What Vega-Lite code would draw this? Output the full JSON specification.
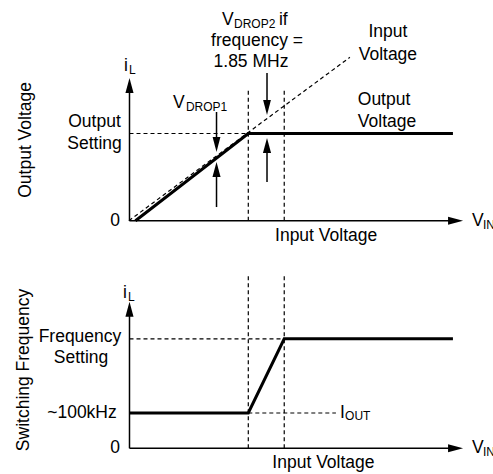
{
"$schema":"https://vega.github.io/schema/vega-lite/v6.json",
"padding":0,"spacing":0,"bounds":"flush","background":"white",
"config":{"view":{"stroke":null}},
"resolve":{"scale":{"x":"independent","y":"independent","shape":"independent"}},
"datasets":{
"lines":[
{"p":"t","id":"d1","k":"dash","o":0,"x":-0.02,"y":0},{"p":"t","id":"d1","k":"dash","o":1,"x":7.42,"y":5.62},
{"p":"t","id":"d2","k":"dash","o":0,"x":0,"y":3},{"p":"t","id":"d2","k":"dash","o":1,"x":4,"y":3},
{"p":"t","id":"d3","k":"dash","o":0,"x":4,"y":0},{"p":"t","id":"d3","k":"dash","o":1,"x":4,"y":4.566},
{"p":"t","id":"d4","k":"dash","o":0,"x":5.21,"y":0},{"p":"t","id":"d4","k":"dash","o":1,"x":5.21,"y":4.566},
{"p":"t","id":"xa","k":"thin","o":0,"x":0,"y":0},{"p":"t","id":"xa","k":"thin","o":1,"x":11,"y":0},
{"p":"t","id":"ya","k":"thin","o":0,"x":0,"y":0},{"p":"t","id":"ya","k":"thin","o":1,"x":0,"y":4.7},
{"p":"t","id":"s1","k":"thin","o":0,"x":2.93,"y":3.74},{"p":"t","id":"s1","k":"thin","o":1,"x":2.93,"y":2.6},
{"p":"t","id":"s2","k":"thin","o":0,"x":2.93,"y":0.47},{"p":"t","id":"s2","k":"thin","o":1,"x":2.93,"y":1.8},
{"p":"t","id":"s3","k":"thin","o":0,"x":4.63,"y":5.08},{"p":"t","id":"s3","k":"thin","o":1,"x":4.63,"y":3.9},
{"p":"t","id":"s4","k":"thin","o":0,"x":4.63,"y":1.33},{"p":"t","id":"s4","k":"thin","o":1,"x":4.63,"y":2.6},
{"p":"t","id":"out","k":"thick","o":0,"x":0.2,"y":0},{"p":"t","id":"out","k":"thick","o":1,"x":4,"y":3},{"p":"t","id":"out","k":"thick","o":2,"x":10.89,"y":3},
{"p":"b","id":"e1","k":"dash","o":0,"x":0,"y":3.1},{"p":"b","id":"e1","k":"dash","o":1,"x":5.21,"y":3.1},
{"p":"b","id":"e2","k":"dash","o":0,"x":4,"y":1},{"p":"b","id":"e2","k":"dash","o":1,"x":6.95,"y":1},
{"p":"b","id":"e3","k":"dash","o":0,"x":4,"y":0},{"p":"b","id":"e3","k":"dash","o":1,"x":4,"y":4.909},
{"p":"b","id":"e4","k":"dash","o":0,"x":5.21,"y":0},{"p":"b","id":"e4","k":"dash","o":1,"x":5.21,"y":4.909},
{"p":"b","id":"xb","k":"thin","o":0,"x":0,"y":0},{"p":"b","id":"xb","k":"thin","o":1,"x":11,"y":0},
{"p":"b","id":"yb","k":"thin","o":0,"x":0,"y":0},{"p":"b","id":"yb","k":"thin","o":1,"x":0,"y":3.95},
{"p":"b","id":"fb","k":"thick","o":0,"x":0,"y":1},{"p":"b","id":"fb","k":"thick","o":1,"x":4,"y":1},{"p":"b","id":"fb","k":"thick","o":2,"x":5.21,"y":3.1},{"p":"b","id":"fb","k":"thick","o":3,"x":10.89,"y":3.1}
],
"heads":[
{"p":"t","dir":"up","x":0,"y":4.91},{"p":"t","dir":"right","x":11.23,"y":0},
{"p":"t","dir":"down","x":2.93,"y":2.363},{"p":"t","dir":"up","x":2.93,"y":2.02},
{"p":"t","dir":"down","x":4.63,"y":3.636},{"p":"t","dir":"up","x":4.63,"y":2.845},
{"p":"b","dir":"up","x":0,"y":4.15},{"p":"b","dir":"right","x":11.23,"y":0}
],
"labels":[
{"p":"t","a":"c","t":"frequency =","x":4.296,"y":6.18},
{"p":"t","a":"c","t":"1.85 MHz","x":4.09,"y":5.46},
{"p":"t","a":"c","t":"Input","x":8.7,"y":6.49},
{"p":"t","a":"c","t":"Voltage","x":8.7,"y":5.7},
{"p":"t","a":"c","t":"Output","x":8.57,"y":4.15},
{"p":"t","a":"c","t":"Voltage","x":8.67,"y":3.4},
{"p":"t","a":"c","t":"Output","x":-1.178,"y":3.4},
{"p":"t","a":"c","t":"Setting","x":-1.178,"y":2.64},
{"p":"t","a":"c","t":"Input Voltage","x":6.62,"y":-0.526},
{"p":"t","a":"r","t":"0","x":-0.32,"y":0},
{"p":"t","a":"l","t":"V","x":3.114,"y":6.9},
{"p":"t","a":"l","t":"if","x":5.03,"y":6.9},
{"p":"t","a":"l","t":"V","x":1.465,"y":4.05},
{"p":"t","a":"l","t":"i","x":-0.185,"y":5.32},
{"p":"t","a":"l","t":"V","x":11.53,"y":0},
{"p":"t","a":"s","t":"DROP2","x":3.52,"y":6.76},
{"p":"t","a":"s","t":"DROP1","x":1.9,"y":3.91},
{"p":"t","a":"s","t":"L","x":-0.017,"y":5.18},
{"p":"t","a":"s","t":"IN","x":11.9,"y":-0.14},
{"p":"t","a":"rot","t":"Output Voltage","x":-3.48,"y":2.78},
{"p":"b","a":"c","t":"Frequency","x":-1.667,"y":3.15},
{"p":"b","a":"c","t":"Setting","x":-1.63,"y":2.56},
{"p":"b","a":"c","t":"~100kHz","x":-1.6,"y":1.0},
{"p":"b","a":"c","t":"Input Voltage","x":6.53,"y":-0.415},
{"p":"b","a":"r","t":"0","x":-0.32,"y":0},
{"p":"b","a":"l","t":"i","x":-0.219,"y":4.4},
{"p":"b","a":"l","t":"I","x":7.09,"y":1.0},
{"p":"b","a":"l","t":"V","x":11.53,"y":0},
{"p":"b","a":"s","t":"L","x":-0.05,"y":4.29},
{"p":"b","a":"s","t":"OUT","x":7.26,"y":0.915},
{"p":"b","a":"s","t":"IN","x":11.9,"y":-0.105},
{"p":"b","a":"rot","t":"Switching Frequency","x":-3.55,"y":2.22}
]
},
"vconcat":[
{
"width":493,"height":240,
"encoding":{
"x":{"field":"x","type":"quantitative","scale":{"domain":[-4.36,12.239],"nice":false,"zero":false},"axis":null},
"y":{"field":"y","type":"quantitative","scale":{"domain":[-0.664,7.592],"nice":false,"zero":false},"axis":null}
},
"layer":[
{"data":{"name":"lines"},"transform":[{"filter":"datum.p=='t' && datum.k=='dash'"}],
 "mark":{"type":"line","color":"black","strokeWidth":1.2,"strokeDash":[4,3]},
 "encoding":{"detail":{"field":"id"},"order":{"field":"o"}}},
{"data":{"name":"lines"},"transform":[{"filter":"datum.p=='t' && datum.k=='thin'"}],
 "mark":{"type":"line","color":"black","strokeWidth":1.5},
 "encoding":{"detail":{"field":"id"},"order":{"field":"o"}}},
{"data":{"name":"lines"},"transform":[{"filter":"datum.p=='t' && datum.k=='thick'"}],
 "mark":{"type":"line","color":"black","strokeWidth":3},
 "encoding":{"detail":{"field":"id"},"order":{"field":"o"}}},
{"data":{"name":"heads"},"transform":[{"filter":"datum.p=='t'"}],
 "mark":{"type":"point","filled":true,"color":"black","opacity":1,"size":36,"strokeWidth":0},
 "encoding":{"shape":{"field":"dir","type":"nominal","legend":null,"scale":{"domain":["up","down","right"],"range":["M0,0L-1.35,5L1.35,5Z","M0,0L-1.3,-5L1.3,-5Z","M0,0L-5,-1.35L-5,1.35Z"]}}}},
{"data":{"name":"labels"},"transform":[{"filter":"datum.p=='t' && datum.a=='c'"}],
 "mark":{"type":"text","font":"Liberation Sans","fontSize":17.5,"align":"center","baseline":"middle","color":"black"},
 "encoding":{"text":{"field":"t"}}},
{"data":{"name":"labels"},"transform":[{"filter":"datum.p=='t' && datum.a=='l'"}],
 "mark":{"type":"text","font":"Liberation Sans","fontSize":17.5,"align":"left","baseline":"middle","color":"black"},
 "encoding":{"text":{"field":"t"}}},
{"data":{"name":"labels"},"transform":[{"filter":"datum.p=='t' && datum.a=='r'"}],
 "mark":{"type":"text","font":"Liberation Sans","fontSize":17.5,"align":"right","baseline":"middle","color":"black"},
 "encoding":{"text":{"field":"t"}}},
{"data":{"name":"labels"},"transform":[{"filter":"datum.p=='t' && datum.a=='s'"}],
 "mark":{"type":"text","font":"Liberation Sans","fontSize":12,"align":"left","baseline":"middle","color":"black"},
 "encoding":{"text":{"field":"t"}}},
{"data":{"name":"labels"},"transform":[{"filter":"datum.p=='t' && datum.a=='rot'"}],
 "mark":{"type":"text","font":"Liberation Sans","fontSize":17.5,"align":"center","baseline":"middle","angle":270,"color":"black"},
 "encoding":{"text":{"field":"t"}}}
]
},
{
"width":493,"height":234,
"encoding":{
"x":{"field":"x","type":"quantitative","scale":{"domain":[-4.36,12.239],"nice":false,"zero":false},"axis":null},
"y":{"field":"y","type":"quantitative","scale":{"domain":[-0.728,5.901],"nice":false,"zero":false},"axis":null}
},
"layer":[
{"data":{"name":"lines"},"transform":[{"filter":"datum.p=='b' && datum.k=='dash'"}],
 "mark":{"type":"line","color":"black","strokeWidth":1.2,"strokeDash":[4,3]},
 "encoding":{"detail":{"field":"id"},"order":{"field":"o"}}},
{"data":{"name":"lines"},"transform":[{"filter":"datum.p=='b' && datum.k=='thin'"}],
 "mark":{"type":"line","color":"black","strokeWidth":1.5},
 "encoding":{"detail":{"field":"id"},"order":{"field":"o"}}},
{"data":{"name":"lines"},"transform":[{"filter":"datum.p=='b' && datum.k=='thick'"}],
 "mark":{"type":"line","color":"black","strokeWidth":3},
 "encoding":{"detail":{"field":"id"},"order":{"field":"o"}}},
{"data":{"name":"heads"},"transform":[{"filter":"datum.p=='b'"}],
 "mark":{"type":"point","filled":true,"color":"black","opacity":1,"size":36,"strokeWidth":0},
 "encoding":{"shape":{"field":"dir","type":"nominal","legend":null,"scale":{"domain":["up","down","right"],"range":["M0,0L-1.35,5L1.35,5Z","M0,0L-1.3,-5L1.3,-5Z","M0,0L-5,-1.35L-5,1.35Z"]}}}},
{"data":{"name":"labels"},"transform":[{"filter":"datum.p=='b' && datum.a=='c'"}],
 "mark":{"type":"text","font":"Liberation Sans","fontSize":17.5,"align":"center","baseline":"middle","color":"black"},
 "encoding":{"text":{"field":"t"}}},
{"data":{"name":"labels"},"transform":[{"filter":"datum.p=='b' && datum.a=='l'"}],
 "mark":{"type":"text","font":"Liberation Sans","fontSize":17.5,"align":"left","baseline":"middle","color":"black"},
 "encoding":{"text":{"field":"t"}}},
{"data":{"name":"labels"},"transform":[{"filter":"datum.p=='b' && datum.a=='r'"}],
 "mark":{"type":"text","font":"Liberation Sans","fontSize":17.5,"align":"right","baseline":"middle","color":"black"},
 "encoding":{"text":{"field":"t"}}},
{"data":{"name":"labels"},"transform":[{"filter":"datum.p=='b' && datum.a=='s'"}],
 "mark":{"type":"text","font":"Liberation Sans","fontSize":12,"align":"left","baseline":"middle","color":"black"},
 "encoding":{"text":{"field":"t"}}},
{"data":{"name":"labels"},"transform":[{"filter":"datum.p=='b' && datum.a=='rot'"}],
 "mark":{"type":"text","font":"Liberation Sans","fontSize":17.5,"align":"center","baseline":"middle","angle":270,"color":"black"},
 "encoding":{"text":{"field":"t"}}}
]
}
]
}
